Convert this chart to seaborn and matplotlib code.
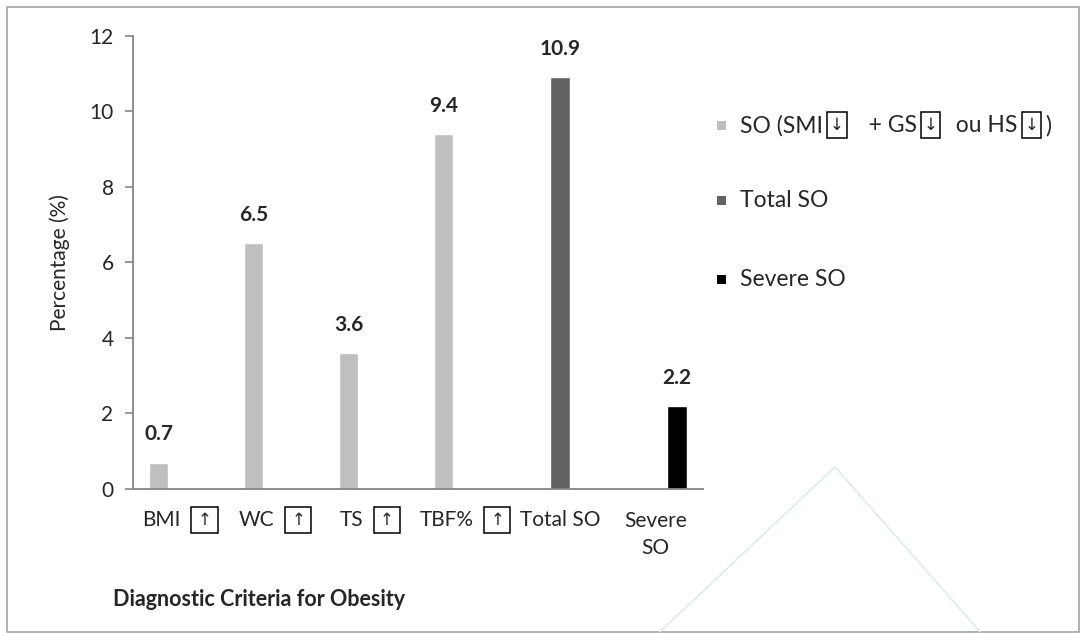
import matplotlib
matplotlib.use("Agg")
import matplotlib.pyplot as plt
import pandas as pd
import seaborn as sns
from matplotlib.lines import Line2D
from matplotlib.patches import Rectangle
from matplotlib.text import Text
from matplotlib.offsetbox import (AnnotationBbox, DrawingArea, HPacker,
                                  TextArea)

# 데이터
categories = ["BMI", "WC", "TS", "TBF%", "Total SO", "Severe SO"]
tick_names = ["BMI", "WC", "TS", "TBF%", "Total SO", "Severe\nSO"]
tick_arrow = [True, True, True, True, False, False]
groups = ["SO", "Total SO", "Severe SO"]
so_values = [0.7, 6.5, 3.6, 9.4, 0.0, 0.0]
total_values = [0.0, 0.0, 0.0, 0.0, 10.9, 0.0]
severe_values = [0.0, 0.0, 0.0, 0.0, 0.0, 2.2]
colors = ["#BFBFBF", "#636363", "#000000"]

sns.set_style("white")
plt.rcParams["font.family"] = ["Lato", "DejaVu Sans"]
FS = 15
LFS = 16.5

df = pd.DataFrame({
    "cat": categories * 3,
    "grp": [g for g in groups for _ in categories],
    "val": so_values + total_values + severe_values,
})

fig = plt.figure(figsize=(10.83, 6.33), dpi=100)
ax = fig.add_axes([0.1228, 0.2275, 0.526, 0.716])
sns.barplot(data=df, x="cat", y="val", hue="grp", order=categories,
            hue_order=groups, palette=colors, width=0.69, gap=0.1,
            legend=False, ax=ax)

for c in ax.containers:
    labs = [f"{b.get_height():.1f}" if b.get_height() > 0 else "" for b in c]
    ax.bar_label(c, labels=labs, padding=13, fontsize=FS, fontweight="bold")

ax.set_ylim(0, 12)
ax.set_yticks(range(0, 13, 2))
ax.set_xlim(-0.5, 5.5)
ax.set_xlabel(""); ax.set_ylabel("")
ax.tick_params(axis="y", left=True, length=6, width=1.2, color="#868686",
               labelsize=FS, pad=8)
ax.tick_params(axis="x", bottom=False, labelbottom=False)
for s in ["top", "right"]:
    ax.spines[s].set_visible(False)
for s in ["left", "bottom"]:
    ax.spines[s].set_color("#868686")
    ax.spines[s].set_linewidth(1.3)


def boxed_arrow(ch, w, h):
    """테두리 상자 안의 화살표 (크기: 포인트)."""
    da = DrawingArea(w, h)
    da.add_artist(Rectangle((0.5, 0.5), w - 1, h - 1, fill=False, ec="black", lw=1.1))
    da.add_artist(Text(w / 2, h / 2, ch, ha="center", va="center",
                       fontsize=12, family="DejaVu Sans"))
    return da


# x축 라벨 (화살표 상자 포함)
for i, (name, arr) in enumerate(zip(tick_names, tick_arrow)):
    parts = [TextArea(name, textprops=dict(fontsize=FS, multialignment="center",
                                           linespacing=1.45))]
    if arr:
        parts.append(boxed_arrow("↑", 20, 19.5))
        dy = -22.3
    elif "\n" in name:
        dy = -32.8
    else:
        dy = -22.3
    pack = HPacker(children=parts, align="center", pad=0, sep=7)
    ab = AnnotationBbox(pack, (i, 0), xycoords=("data", "axes fraction"),
                        xybox=(0, dy), boxcoords="offset points",
                        box_alignment=(0.5, 0.5), frameon=False)
    ax.add_artist(ab)

# 범례 (수동)
legend_y = [0.802, 0.684, 0.558]
for g, col, yy in zip(groups, colors, legend_y):
    sq = DrawingArea(6.5, 6.5)
    sq.add_artist(Rectangle((0, 0), 6.5, 6.5, fc=col, ec="none"))
    tp = dict(fontsize=LFS)
    if g == "SO":
        parts = [TextArea("SO (SMI", textprops=tp), boxed_arrow("↓", 15, 19.5),
                 TextArea("   + GS", textprops=tp), boxed_arrow("↓", 15, 19.5),
                 TextArea("  ou HS", textprops=tp), boxed_arrow("↓", 15, 19.5),
                 TextArea(")", textprops=tp)]
    else:
        parts = [TextArea(g, textprops=tp)]
    label = HPacker(children=parts, align="center", pad=0, sep=2.5)
    pack = HPacker(children=[sq, label], align="center", pad=0, sep=10)
    fig.add_artist(AnnotationBbox(pack, (717 / 1083, yy), xycoords="figure fraction",
                                  box_alignment=(0, 0.5), frameon=False))

fig.text(60 / 1083, 1 - 263 / 633, "Percentage (%)", rotation=90,
         ha="center", va="center", fontsize=FS)
fig.text(113 / 1083, 1 - 600 / 633, "Diagnostic Criteria for Obesity",
         ha="left", va="center", fontsize=15.5, fontweight="bold")

# 바깥 테두리와 옅은 배경 선
fig.add_artist(Rectangle((7 / 1083, 0.002), 1072 / 1083, 0.987,
                         transform=fig.transFigure, fill=False,
                         ec="#A6A6A6", lw=1.2))
tx = [660 / 1083, 835 / 1083, 980 / 1083]
ty = [0.002, 1 - 467 / 633, 0.002]
fig.add_artist(Line2D(tx, ty, transform=fig.transFigure, color="#DCEDED", lw=1.2))

fig.savefig("out.png", dpi=100)
